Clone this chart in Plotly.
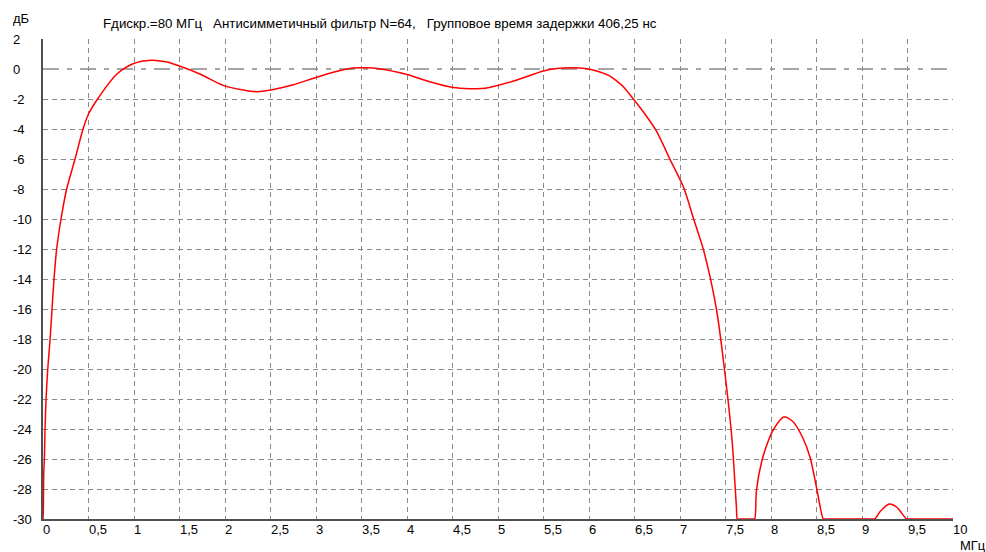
import plotly.graph_objects as go

# ---- data ----
freq_mhz = [0, 0.004, 0.008, 0.015, 0.022, 0.033, 0.051, 0.077, 0.099, 0.121, 0.150,
            0.198, 0.26, 0.352, 0.44, 0.50, 0.60, 0.81, 0.99, 1.19, 1.35, 1.50, 1.73,
            1.98, 2.2, 2.35, 2.49, 2.75, 2.99, 3.2, 3.41, 3.55, 3.67, 4.0, 4.25, 4.51,
            4.69, 4.86, 5.2, 5.50, 5.65, 5.79, 5.90, 6.01, 6.12, 6.23, 6.30, 6.38, 6.49, 6.63,
            6.74, 6.89, 7.04, 7.15, 7.26, 7.40, 7.49, 7.57, 7.62, 7.63, 7.65, 7.80, 7.82, 7.84,
            7.90, 7.97, 8.03, 8.14, 8.24, 8.35, 8.43, 8.50, 8.575, 8.59, 9.12, 9.14, 9.20,
            9.30, 9.38, 9.49, 9.51, 10.0]
gain_db = [-30, -29.3, -27.0, -26.0, -24.1, -22.1, -20.1, -18.1, -16.0, -14.0, -12.0,
           -10.0, -8.0, -6.0, -4.0, -3.0, -2.0, -0.35, 0.35, 0.58, 0.48, 0.2, -0.35,
           -1.09, -1.4, -1.51, -1.42, -1.05, -0.58, -0.2, 0.07, 0.08, 0.04, -0.36, -0.85, -1.24,
           -1.31, -1.29, -0.75, -0.13, 0.03, 0.09, 0.07, -0.02, -0.2, -0.47, -0.78, -1.2, -2.02, -3.13,
           -4.13, -6.02, -7.9, -10.0, -12.1, -16.0, -20.1, -24.6, -29.2, -30, -30, -30, -30, -28.1,
           -26.1, -24.8, -24.0, -23.2, -23.5, -24.6, -25.9, -27.9, -30, -30, -30, -30, -29.5,
           -29.0, -29.2, -30, -30, -30]

x_ticks = [0, 0.5, 1, 1.5, 2, 2.5, 3, 3.5, 4, 4.5, 5, 5.5, 6, 6.5, 7, 7.5, 8, 8.5, 9, 9.5, 10]
x_tick_labels = ["0", "0,5", "1", "1,5", "2", "2,5", "3", "3,5", "4", "4,5", "5", "5,5",
                 "6", "6,5", "7", "7,5", "8", "8,5", "9", "9,5", "10"]
y_ticks = [2, 0, -2, -4, -6, -8, -10, -12, -14, -16, -18, -20, -22, -24, -26, -28, -30]
y_tick_labels = ["2", "0", "-2", "-4", "-6", "-8", "-10", "-12", "-14", "-16", "-18",
                 "-20", "-22", "-24", "-26", "-28", "-30"]

title_text = ("Fдискр.=80 МГц\u00a0\u00a0\u00a0Антисимметичный фильтр N=64,"
              "\u00a0\u00a0\u00a0Групповое время задержки 406,25 нс")
y_unit = "дБ"
x_unit = "МГц"

FONT = dict(family="Liberation Sans, Arial, sans-serif", size=13, color="black")
GRID = "#8a8a8a"

fig = go.Figure()
fig.add_trace(go.Scatter(x=freq_mhz, y=gain_db, mode="lines",
                         line=dict(color="#ff0000", width=1.5, shape="spline", smoothing=0.8),
                         hoverinfo="skip", showlegend=False))

# dash-dot reference line at 0 dB
fig.add_shape(type="line", xref="x", yref="y", x0=0, x1=10, y0=0, y1=0, layer="below",
              line=dict(color="#888888", width=1.5, dash="16px,8px,5px,8px"))

annotations = []
for v, t in zip(x_ticks, x_tick_labels):
    annotations.append(dict(x=v, y=0, xref="x", yref="paper", text=t, showarrow=False,
                            xanchor="left", yanchor="top", xshift=-2, yshift=-1, font=FONT))
for v, t in zip(y_ticks, y_tick_labels):
    annotations.append(dict(x=0, y=v, xref="paper", yref="y", text=t, showarrow=False,
                            xanchor="left", yanchor="middle", xshift=-32, font=FONT))
annotations.append(dict(x=0, y=1, xref="paper", yref="paper", text=y_unit, showarrow=False,
                        xanchor="left", yanchor="middle", xshift=-32, yshift=21, font=FONT))
annotations.append(dict(x=1, y=0, xref="paper", yref="paper", text=x_unit, showarrow=False,
                        xanchor="left", yanchor="top", xshift=5, yshift=-17, font=FONT))
annotations.append(dict(x=0, y=1, xref="paper", yref="paper", text=title_text, showarrow=False,
                        xanchor="left", yanchor="middle", xshift=58, yshift=16,
                        font=dict(FONT, size=13.3)))

fig.update_layout(
    width=986, height=552,
    margin=dict(l=43, r=33, t=39, b=33),
    paper_bgcolor="white", plot_bgcolor="white",
    font=FONT,
    annotations=annotations,
    xaxis=dict(range=[0, 10], tickvals=x_ticks, showticklabels=False, ticks="",
               showgrid=True, gridcolor=GRID, gridwidth=1, griddash="5px,4px",
               zeroline=False, showline=True, linecolor="#505050", linewidth=2,
               layer="below traces", fixedrange=True),
    yaxis=dict(range=[-30, 2], tickvals=[v for v in y_ticks if v != 0], showticklabels=False,
               ticks="", showgrid=True, gridcolor=GRID, gridwidth=1, griddash="5px,4px",
               zeroline=False, showline=True, linecolor="#505050", linewidth=2,
               layer="below traces", fixedrange=True),
)

fig.write_html("out.html", config={"displayModeBar": False},
               post_script="document.body.style.margin='0px';document.body.style.overflow='hidden';")
